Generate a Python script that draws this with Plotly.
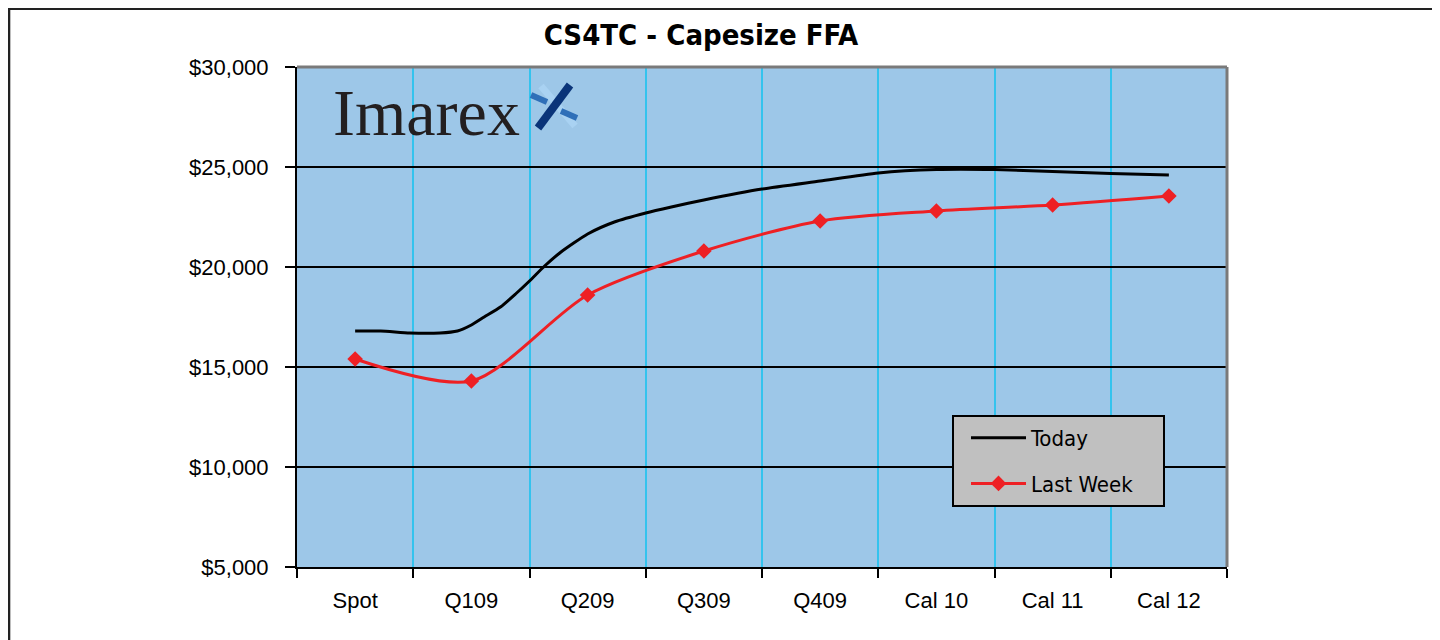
import plotly.graph_objects as go

# ---- data ----
categories = ["Spot", "Q109", "Q209", "Q309", "Q409", "Cal 10", "Cal 11", "Cal 12"]
last_week = [15400, 14300, 18600, 20800, 22300, 22800, 23100, 23550]

# "Today" curve is drawn with intermediate points (position in category units)
today_pos = [0, 0.22, 0.47, 0.73, 0.88, 1.0, 1.11, 1.25, 1.38, 1.5, 1.63, 1.76,
             2.0, 2.23, 2.5, 2.72, 3.0, 3.5, 4.0, 4.5, 5.0, 5.5, 6.0, 6.5, 7.0]
today_vals = [16800, 16800, 16700, 16700, 16800, 17100, 17500, 18000, 18650, 19300,
              20050, 20700, 21650, 22250, 22700, 23000, 23350, 23900, 24300, 24700,
              24870, 24870, 24780, 24680, 24600]

y_ticks = [5000, 10000, 15000, 20000, 25000, 30000]
y_tick_labels = ["$5,000", "$10,000", "$15,000", "$20,000", "$25,000", "$30,000"]

AX_FONT = "Liberation Sans, Arial, Helvetica, sans-serif"
COND_FONT = "DejaVu Sans Condensed, Liberation Sans Narrow, Arial Narrow, sans-serif"
PAD = "\u00a0" * 4  # extra room on the right of the legend box

fig = go.Figure()
fig.add_trace(go.Scatter(
    x=today_pos, y=today_vals, name="Today", mode="lines",
    line=dict(color="black", width=3, shape="spline", smoothing=0.6),
    legendgroup="a",
))
fig.add_trace(go.Scatter(
    x=list(range(len(categories))), y=last_week, name="Last Week" + PAD, mode="lines+markers",
    line=dict(color="#ee2024", width=3, shape="spline", smoothing=0.8),
    marker=dict(symbol="diamond", size=12, color="#ee2024"),
    legendgroup="b",
))

# page has an 8px body margin: figure is sized/placed to match the reference
W, H = 1432, 632
L_REF, R_REF, T_REF, B_REF = 297, 1227, 67, 567
OFF = 8


def px(xr):
    return (xr - L_REF) / (R_REF - L_REF)


def py(yr):
    return (B_REF - yr) / (B_REF - T_REF)


shapes = []
# outer frame (top and left)
shapes.append(dict(type="line", xref="paper", yref="paper", x0=px(0), x1=px(1450), y0=py(8.5), y1=py(8.5),
                   line=dict(color="#222222", width=3)))
shapes.append(dict(type="line", xref="paper", yref="paper", x0=px(8.8), x1=px(8.8), y0=py(8), y1=py(660),
                   line=dict(color="#222222", width=3)))
# plot area top/right border
shapes.append(dict(type="line", xref="paper", yref="paper", x0=0, x1=1, y0=1, y1=1,
                   line=dict(color="#7a7a7a", width=3)))
shapes.append(dict(type="line", xref="paper", yref="paper", x0=1, x1=1, y0=0, y1=1,
                   line=dict(color="#7a7a7a", width=3)))
# Imarex logo mark
shapes.append(dict(type="line", xref="paper", yref="paper", x0=px(541), y0=py(86), x1=px(575), y1=py(126),
                   line=dict(color="#a9d2f2", width=7)))
shapes.append(dict(type="line", xref="paper", yref="paper", x0=px(531), y0=py(95), x1=px(547), y1=py(102),
                   line=dict(color="#2f6fb8", width=6)))
shapes.append(dict(type="line", xref="paper", yref="paper", x0=px(561), y0=py(111), x1=px(577), y1=py(118),
                   line=dict(color="#2f6fb8", width=6)))
shapes.append(dict(type="line", xref="paper", yref="paper", x0=px(570), y0=py(85), x1=px(538), y1=py(128),
                   line=dict(color="#0a3479", width=8)))

annotations = [
    dict(text="Imarex", xref="paper", yref="paper", x=px(331), y=py(113), xanchor="left", yanchor="middle",
         showarrow=False, font=dict(family="Liberation Serif, DejaVu Serif, serif", size=66, color="#231f20")),
]

fig.update_layout(
    width=W, height=H,
    margin=dict(l=L_REF - OFF, r=W - (R_REF - OFF), t=T_REF - OFF, b=H - (B_REF - OFF)),
    paper_bgcolor="white",
    plot_bgcolor="#9dc7e8",
    font=dict(family=AX_FONT, size=22, color="black"),
    title=dict(text="<b>CS4TC - Capesize FFA</b>", x=px(701), xref="paper", xanchor="center",
               y=1 - (35 - OFF) / H, yanchor="middle",
               font=dict(family=COND_FONT, size=29, color="black")),
    showlegend=True,
    legend=dict(x=px(952), y=py(415), xanchor="left", yanchor="top",
                bgcolor="#c0c0c0", bordercolor="black", borderwidth=2,
                font=dict(family=COND_FONT, size=22, color="black"),
                itemwidth=55, tracegroupgap=14, traceorder="grouped",
                indentation=12),
    shapes=shapes,
    annotations=annotations,
)

fig.update_xaxes(
    range=[-0.5, len(categories) - 0.5],
    tickmode="array", tickvals=list(range(len(categories))), ticktext=categories,
    ticks="outside", ticklen=13, tickcolor="rgba(0,0,0,0)",
    showgrid=False, zeroline=False,
    showline=True, linecolor="black", linewidth=2,
    minor=dict(tickmode="linear", tick0=-0.5, dtick=1, ticks="outside", ticklen=9, tickwidth=2,
               tickcolor="black", showgrid=True, gridcolor="#33c3ee", gridwidth=2),
)
fig.update_yaxes(
    range=[5000, 30000], tickmode="array", tickvals=y_ticks, ticktext=y_tick_labels,
    ticks="outside", ticklen=10, tickwidth=2, tickcolor="black", ticklabelstandoff=12,
    showgrid=True, gridcolor="black", gridwidth=2, zeroline=False,
    showline=True, linecolor="black", linewidth=2,
)

fig.write_html("out.html")
